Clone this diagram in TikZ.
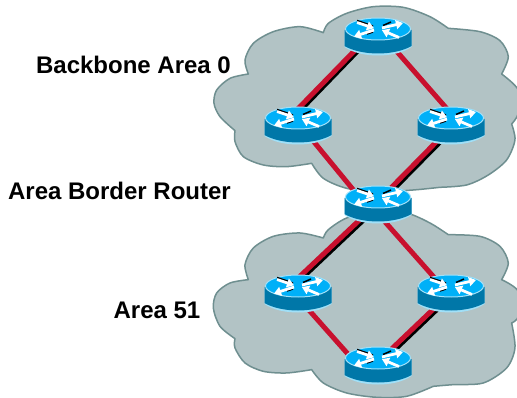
\documentclass[tikz,border=0pt]{standalone}
\usepackage{fontspec}
\setmainfont{Liberation Sans}
\usetikzlibrary{arrows.meta}
\definecolor{cloudfill}{HTML}{B2C3C5}
\definecolor{cloudline}{HTML}{6F8F90}
\definecolor{routerbody}{HTML}{0077A8}
\definecolor{routertop}{HTML}{00B0F8}
\definecolor{routeredge}{HTML}{A0E0F8}
\definecolor{linkred}{HTML}{C8102E}
\tikzset{
  x=1pt,y=-1pt,
  cloudshape/.style={fill=cloudfill,draw=cloudline,line width=1.5pt,line join=round},
  linkline/.style={draw=linkred,line width=5pt},
  linkshadow/.style={draw=black,line width=4pt},
  lab/.style={font=\bfseries\fontsize{24}{24}\selectfont,inner sep=0pt,text=black},
  arrowfill/.style={line width=2.8pt,draw=white,-{Triangle[length=7pt,width=9pt,fill=white]}},
  arrowdark/.style={line width=1.5pt,draw=black},
  pics/router/.style={code={
    \fill[routeredge] (-33.5,1) -- (33.5,1) -- (33.5,18) .. controls (25,24) and (12,26.5) .. (0,26.5) .. controls (-12,26.5) and (-25,24) .. (-33.5,18) -- cycle;
    \fill[routerbody] (-33.5,1) -- (33.5,1) -- (33.5,17) .. controls (25,22) and (12,24.5) .. (0,24.5) .. controls (-12,24.5) and (-25,22) .. (-33.5,17) -- cycle;
    \fill[routertop,draw=routeredge,line width=1pt] (0,0) ellipse [x radius=32.5,y radius=11];
    \draw[arrowdark] (-21,-8.5) -- (-5,-3);
    \draw[arrowdark] (13,-7) -- (5,-3.5);
    \draw[arrowdark] (-5,3) -- (-11,5);
    \draw[arrowfill] (-21,-6.5) -- (-4,-0.8);
    \draw[arrowfill] (4,-1) -- (25,-6);
    \draw[arrowfill] (-4,1) -- (-24,7.5);
    \draw[arrowfill] (21,8.5) -- (4,1.2);
  }}
}
\begin{document}
\begin{tikzpicture}
\useasboundingbox (0,0) rectangle (517,398);
\clip (0,0) rectangle (517,398);
\fill[white] (0,0) rectangle (517,398);
\begin{scope}[shift={(200,0)},x=0.3333pt,y=-0.3333pt]
\draw[cloudshape]
  plot[smooth] coordinates {(145,222) (90,235) (50,270) (42,310) (60,350) (105,392)}
  -- plot[smooth] coordinates {(105,392) (105,425) (130,470) (190,495) (260,500) (335,490)}
  -- plot[smooth] coordinates {(335,490) (370,535) (440,565) (535,575) (640,570) (720,562)}
  -- plot[smooth] coordinates {(720,562) (800,555) (865,525) (920,480) (945,420) (935,372)}
  -- plot[smooth] coordinates {(935,372) (955,340) (955,270) (905,222)}
  -- plot[smooth] coordinates {(905,222) (925,170) (900,122) (840,95) (745,85)}
  -- plot[smooth] coordinates {(745,85) (690,50) (610,22) (520,20) (440,40) (385,70) (370,98)}
  -- plot[smooth] coordinates {(370,98) (300,80) (220,95) (160,130) (135,180) (145,222)}
  -- cycle;
\begin{scope}[yshift=-198pt]
\draw[cloudshape]
  plot[smooth] coordinates {(145,245) (90,255) (50,285) (40,330) (60,385) (105,422)}
  -- plot[smooth] coordinates {(105,422) (105,450) (135,495) (190,520) (260,525) (335,515)}
  -- plot[smooth] coordinates {(335,515) (370,555) (440,585) (530,598) (620,595) (700,565)}
  -- plot[smooth] coordinates {(700,565) (760,560) (850,555) (920,510) (945,450) (935,375)}
  -- plot[smooth] coordinates {(935,375) (955,355) (955,280) (905,245)}
  -- plot[smooth] coordinates {(905,245) (925,195) (900,145) (840,115) (745,110)}
  -- plot[smooth] coordinates {(745,110) (690,75) (620,45) (530,38) (440,60) (385,95) (370,120)}
  -- plot[smooth] coordinates {(370,120) (300,105) (220,115) (160,150) (135,200) (145,245)}
  -- cycle;
\end{scope}
\end{scope}
\coordinate (rt) at (378,29);
\coordinate (rl) at (298,118);
\coordinate (rr) at (451,118);
\coordinate (abr) at (378,197);
\coordinate (ll) at (298,286);
\coordinate (lr) at (451,286);
\coordinate (bot) at (378,358);
\draw[linkshadow] ([shift={(-13.5,15.5)}]rt) -- ([shift={(-6.5,2)}]rl);
\draw[linkshadow] ([shift={(-1.5,15)}]rr) -- ([shift={(7.5,1)}]abr);
\draw[linkshadow] ([shift={(-7.5,17)}]abr) -- ([shift={(0.5,-4)}]ll);
\draw[linkshadow] ([shift={(-3.5,14)}]lr) -- ([shift={(4.5,4)}]bot);
\draw[linkline] ([shift={(-16,14)}]rt) -- ([shift={(-9,0)}]rl);
\draw[linkline] ([shift={(14,17)}]rt) -- ([shift={(4,0)}]rr);
\draw[linkline] ([shift={(7,13)}]rl) -- ([shift={(-18,1)}]abr);
\draw[linkline] ([shift={(-4,13)}]rr) -- ([shift={(5,-1)}]abr);
\draw[linkline] ([shift={(-10,15)}]abr) -- ([shift={(-2,-6)}]ll);
\draw[linkline] ([shift={(0,17)}]abr) -- ([shift={(-11,-2)}]lr);
\draw[linkline] ([shift={(2,14)}]ll) -- ([shift={(-23,4)}]bot);
\draw[linkline] ([shift={(-6,12)}]lr) -- ([shift={(2,2)}]bot);
\pic at (rt) {router};
\pic at (rl) {router};
\pic at (rr) {router};
\pic at (abr) {router};
\pic at (ll) {router};
\pic at (lr) {router};
\pic at (bot) {router};
\node[lab] (t1) at (133.5,65) {Backbone Area 0};
\node[lab] (t2) at (119.5,191) {Area Border Router};
\node[lab] (t3) at (157,310) {Area 51};
\end{tikzpicture}
\end{document}
